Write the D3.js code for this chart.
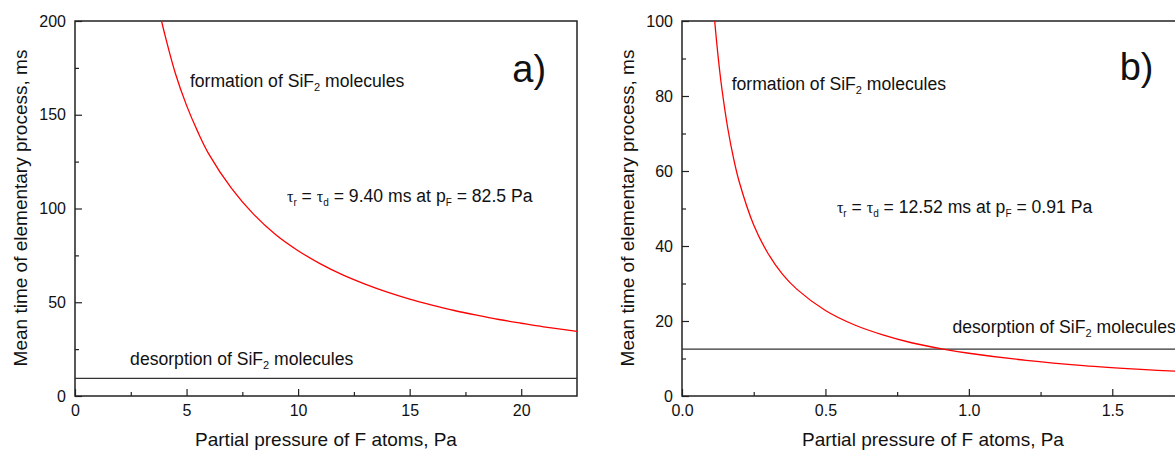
<!DOCTYPE html>
<html>
<head>
<meta charset="utf-8">
<script src="https://cdn.jsdelivr.net/npm/d3@7"></script>
<style>
  body { margin: 0; background: #fff; }
  svg { display: block; font-family: Arial, "Liberation Sans", sans-serif; }
</style>
</head>
<body>
<svg width="1175" height="450"></svg>
<script>
// panel a) - formation time vs pressure
var pressureA = [3.88, 4, 4.5, 5, 5.5, 6, 7, 8, 9, 10, 11, 12, 13, 14, 15, 16, 17, 18, 19, 20, 21, 22.5];
var tauFormA  = [200, 194, 172, 155, 141, 129, 111, 97, 86, 77.5, 70.5, 64.6, 59.7, 55.4, 51.7, 48.5, 45.6, 43.1, 40.8, 38.8, 36.9, 34.5];
var tauDesA = 9.40;
var xTicksA = [0, 5, 10, 15, 20];
var yTicksA = [0, 50, 100, 150, 200];

// panel b)
var pressureB = [0.114, 0.12, 0.13, 0.14, 0.16, 0.18, 0.2, 0.25, 0.3, 0.35, 0.4, 0.5, 0.6, 0.7, 0.8, 0.91, 1.0, 1.2, 1.4, 1.6, 1.75];
var tauFormB  = [100, 95, 87.6, 81.4, 71.2, 63.3, 57, 45.6, 38, 32.5, 28.5, 22.8, 19, 16.3, 14.2, 12.52, 11.4, 9.5, 8.1, 7.1, 6.5];
var tauDesB = 12.52;
var xTicksB = [0, 0.5, 1.0, 1.5];
var yTicksB = [0, 20, 40, 60, 80, 100];

var svg = d3.select("svg");

function drawPanel(p) {
    var x = d3.scaleLinear().domain(p.xDomain).range([p.left, p.left + p.width]);
    var y = d3.scaleLinear().domain(p.yDomain).range([396, 21]);

    var g = svg.append("g");

    g.append("clipPath")
        .attr("id", p.id)
        .append("rect")
        .attr("x", p.left)
        .attr("y", 21)
        .attr("width", p.width)
        .attr("height", 375);

    // minor ticks
    g.append("g")
        .attr("transform", "translate(0,396)")
        .call(d3.axisBottom(x).tickValues(p.xMinor).tickSize(-4).tickFormat(""))
        .call(function (s) { s.select(".domain").remove(); });
    g.append("g")
        .attr("transform", "translate(" + p.left + ",0)")
        .call(d3.axisLeft(y).tickValues(p.yMinor).tickSize(-4).tickFormat(""))
        .call(function (s) { s.select(".domain").remove(); });

    // major ticks
    var xa = g.append("g")
        .attr("transform", "translate(0,396)")
        .call(d3.axisBottom(x).tickValues(p.xTicks).tickSize(-7).tickPadding(9).tickFormat(p.xFormat));
    var ya = g.append("g")
        .attr("transform", "translate(" + p.left + ",0)")
        .call(d3.axisLeft(y).tickValues(p.yTicks).tickSize(-7).tickPadding(9).tickFormat(d3.format("d")));

    [xa, ya].forEach(function (a) {
        a.select(".domain").remove();
        a.selectAll("text").attr("font-size", 16).attr("fill", "#111").attr("font-family", "Arial, 'Liberation Sans'");
    });
    g.selectAll(".tick line").attr("stroke", "#222").attr("stroke-width", 1.2);

    // frame
    g.append("rect")
        .attr("x", p.left)
        .attr("y", 21)
        .attr("width", p.width)
        .attr("height", 375)
        .attr("fill", "none")
        .attr("stroke", "#222")
        .attr("stroke-width", 1.5);

    // desorption line
    g.append("line")
        .attr("x1", p.left)
        .attr("x2", p.left + p.width)
        .attr("y1", y(p.tauDes))
        .attr("y2", y(p.tauDes))
        .attr("stroke", "#333")
        .attr("stroke-width", 1.2);

    // formation curve
    var line = d3.line()
        .curve(d3.curveCatmullRom.alpha(0.5))
        .x(function (d, i) { return x(p.px[i]); })
        .y(function (d) { return y(d); });

    g.append("path")
        .datum(p.tau)
        .attr("clip-path", "url(#" + p.id + ")")
        .attr("fill", "none")
        .attr("stroke", "#ff0000")
        .attr("stroke-width", 1.3)
        .attr("d", line);

    // labels with SiF2
    function sif2(t, pos, pre) {
        t.attr("x", x(pos[0])).attr("y", y(pos[1])).attr("font-size", 17.6).attr("fill", "#111");
        t.append("tspan").text(pre + " of SiF");
        t.append("tspan").attr("font-size", 11).attr("dy", 4).text("2");
        t.append("tspan").attr("dy", -4).text(" molecules");
    }
    sif2(g.append("text"), p.formPos, "formation");
    sif2(g.append("text"), p.desPos, "desorption");

    // tau_r = tau_d note
    var t = g.append("text")
        .attr("x", x(p.notePos[0]))
        .attr("y", y(p.notePos[1]))
        .attr("font-size", 17.6)
        .attr("fill", "#111");
    t.append("tspan").attr("font-family", "'Liberation Serif', 'Times New Roman', serif").attr("font-size", 16).text("τ");
    t.append("tspan").attr("font-size", 10).attr("dy", 4).text("r");
    t.append("tspan").attr("dy", -4).text(" = ");
    t.append("tspan").attr("font-family", "'Liberation Serif', 'Times New Roman', serif").attr("font-size", 16).text("τ");
    t.append("tspan").attr("font-size", 10).attr("dy", 4).text("d");
    t.append("tspan").attr("dy", -4).text(" = " + p.noteVal + " ms at p");
    t.append("tspan").attr("font-size", 10).attr("dy", 4).text("F");
    t.append("tspan").attr("dy", -4).text(" = " + p.notePress + " Pa");

    // panel letter
    g.append("text")
        .attr("x", x(p.letterPos[0]))
        .attr("y", y(p.letterPos[1]))
        .attr("font-size", 38)
        .attr("fill", "#111")
        .text(p.letter);

    // axis titles
    g.append("text")
        .attr("x", p.left + p.width / 2)
        .attr("y", 446)
        .attr("text-anchor", "middle")
        .attr("font-size", 19)
        .attr("fill", "#111")
        .text("Partial pressure of F atoms, Pa");

    g.append("text")
        .attr("transform", "translate(" + (p.left - 48) + "," + 208 + ") rotate(-90)")
        .attr("text-anchor", "middle")
        .attr("font-size", 19)
        .attr("fill", "#111")
        .text("Mean time of elementary process, ms");
}

drawPanel({
    id: "clipA", left: 75, width: 502,
    xDomain: [0, 22.5], yDomain: [0, 200],
    xTicks: xTicksA, yTicks: yTicksA,
    xMinor: d3.range(2.5, 22.5, 5), yMinor: d3.range(25, 200, 50),
    xFormat: d3.format("d"),
    px: pressureA, tau: tauFormA, tauDes: tauDesA,
    formPos: [5.15, 164.8], desPos: [2.47, 16.5], notePos: [9.5, 103.5],
    noteVal: "9.40", notePress: "82.5",
    letter: "a)", letterPos: [19.6, 167.5]
});

drawPanel({
    id: "clipB", left: 682, width: 502,
    xDomain: [0, 1.75], yDomain: [0, 100],
    xTicks: xTicksB, yTicks: yTicksB,
    xMinor: d3.range(0.25, 1.75, 0.5), yMinor: d3.range(10, 100, 20),
    xFormat: d3.format(".1f"),
    px: pressureB, tau: tauFormB, tauDes: tauDesB,
    formPos: [0.173, 81.6], desPos: [0.943, 16.8], notePos: [0.54, 48.8],
    noteVal: "12.52", notePress: "0.91",
    letter: "b)", letterPos: [1.526, 84.3]
});
</script>
</body>
</html>
